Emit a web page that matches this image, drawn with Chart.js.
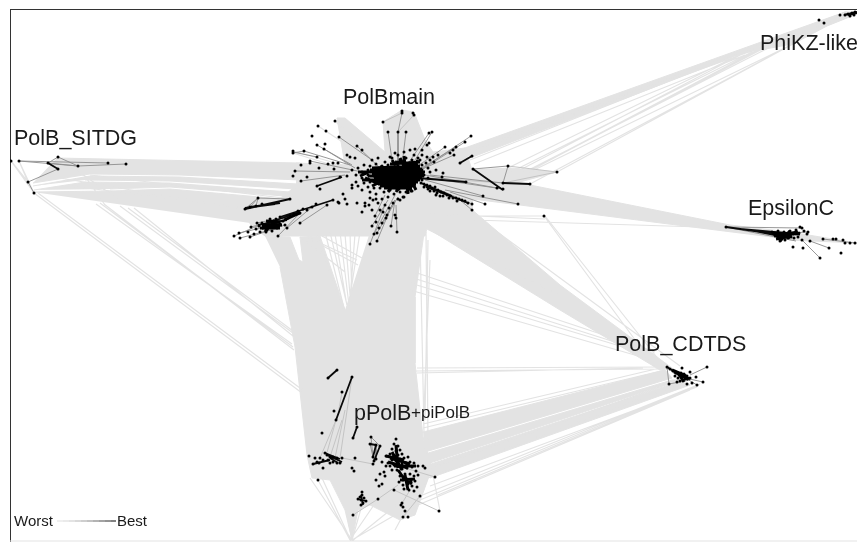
<!DOCTYPE html>
<html>
<head>
<meta charset="utf-8">
<title>PolB network</title>
<script src="https://cdn.jsdelivr.net/npm/chart.js@4"></script>
<style>
  html, body { margin: 0; padding: 0; background: #fff; }
  canvas { display: block; }
</style>
</head>
<body>
<canvas id="network" width="857" height="542"></canvas>
<script>
// Node positions, one list per cluster
const polbMainNodes = [
  [402,111],[402,113],[413,113],[414,115],[383,122],[388,132],[398,132],[406,132],[432,132],[429,133],[335,121],[318,126],[326,131],[312,136],[339,137],
  [471,136],[465,142],[456,147],[445,147],[429,143],[427,145],[357,146],[362,150],[325,144],[317,145],[324,149],[293,151],[293,153],[304,151],[317,157],
  [310,161],[310,163],[301,165],[295,171],[293,176],[307,177],[301,181],[328,164],[333,163],[338,163],[334,169],[319,168],[350,157],[355,158],[347,155],
  [340,177],[347,176],[317,186],[320,189],[352,185],[343,194],[345,199],[347,204],[338,202],[357,203],[365,203],[365,206],[362,212],[373,200],[378,203],
  [375,216],[372,226],[374,234],[377,233],[370,244],[377,241],[382,223],[387,215],[395,215],[396,218],[391,226],[397,232],[393,203],[400,200],[403,197],[408,192],
  [450,153],[453,150],[454,155],[438,155],[433,157],[427,157],[422,150],[415,149],[395,153],[390,157],[443,173],[442,177],[466,182],[483,196],[497,188],[503,189],
  [503,183],[508,166],[473,169],[518,204],[485,204],[472,210],[472,204],[460,163],[472,156],[530,184],[557,172],[544,216],
  [372,160],[378,158],[385,162],[392,158],[398,155],[404,152],[410,150],[414,155],[418,158],[422,155],[420,160],[412,160],[406,158],[400,160],[394,163],[388,165],
  [382,166],[376,164],[370,166],[364,165],[358,168],[352,170],[356,175],[362,172],[368,170],[374,170],[380,172],[386,170],[392,168],[398,166],[404,165],[410,165],
  [416,164],[422,165],[426,163],[430,160],[434,162],[428,168],[422,170],[416,170],[410,170],[404,170],[398,172],[392,174],[386,176],[380,178],[374,176],[368,175],
  [362,178],[356,182],[352,188],[358,186],[364,183],[370,182],[376,182],[382,183],[388,181],[394,179],[400,177],[406,176],[412,175],[418,175],[424,175],[430,172],
  [436,170],[428,178],[422,180],[416,180],[410,181],[404,182],[398,183],[392,185],[386,187],[380,188],[374,188],[368,187],[362,190],[370,192],[376,194],[384,192],
  [390,190],[396,188],[402,187],[408,186],[414,185],[412,191],[406,192],[400,192],[394,194],[388,197],[382,199],[376,199],[370,198],[404,197],[398,199],
  [385,205],[380,210],[376,222],[383,212],[379,228],[386,218],[389,208],[372,210],[369,205],
  [421,183],[424,184],[427,185],[430,186],[424,187],[428,189],[432,188],[435,187],[438,190],[434,191],[430,191],[441,192],[437,193],[444,193],[447,195],[443,196],
  [450,196],[453,198],[449,198],[456,198],[459,199],[462,200],[457,201],[465,201],[468,203],[440,196],[436,195]
];
const polbLowerLeftNodes = [
  [234,236],[239,233],[240,238],[248,232],[250,237],[251,227],[257,223],[278,236],[280,217],[287,228],[300,223],[300,213],[312,207],[327,205],[333,200],[339,203],
  [256,229],[259,226],[262,223],[265,228],[268,222],[271,226],[274,223],[277,228],[280,224],[283,221],[266,232],[272,231],[260,232],[254,234],[286,219],[290,216],
  [294,214],[298,211],[303,209],[307,210],[316,204],[270,219],[276,219],[285,225],[245,209],[258,198],[290,199],[250,207],[256,206],[262,204]
];
const sitdgNodes = [[11,161],[19,161],[58,157],[48,163],[58,169],[78,166],[108,163],[126,164],[28,182],[34,193]];
const phikzNodes = [[819,20],[824,23],[840,15],[845,15],[848,14],[852,13],[855,12],[850,16],[854,15]];
const epsilonNodes = [
  [726,227],[800,227],[808,232],[810,241],[802,240],[820,258],[793,247],[803,248],[829,248],[823,239],[833,239],[836,239],[843,240],[845,243],[855,243],[841,253],[850,243],
  [772,232],[775,235],[778,231],[781,234],[784,232],[787,235],[790,231],[793,234],[796,230],[799,233],[778,237],[782,238],[785,240],[788,238],[791,237],[780,241],[786,236],[794,238],[798,237],[804,231],[802,228],[807,234]
];
const cdtdsNodes = [
  [667,367],[707,367],[669,384],[703,382],[697,385],[682,368],[690,372],[696,377],[692,383],[687,384],[677,382],[670,369],[673,371],
  [676,373],[679,375],[682,377],[685,379],[678,378],[681,373],[684,374],[687,376],[690,378],[675,376],[683,380],[680,381]
];
const ppolbNodes = [
  [309,456],[315,458],[318,480],[313,464],[319,463],[323,468],[325,453],[327,455],[330,457],[333,457],[337,458],[342,458],[340,463],[333,462],[328,460],[323,460],
  [320,458],[317,462],[330,463],[337,463],[337,370],[328,378],[352,377],[336,420],[342,392],[334,411],[322,433],[357,427],[353,438],[355,458],[352,468],[354,471],
  [373,464],[371,437],[370,444],[376,445],[380,446],[373,457],[374,461],[376,459],
  [396,439],[394,444],[398,446],[392,449],[396,451],[400,450],[390,454],[394,456],[398,455],[402,454],[386,456],[392,460],[396,461],[400,459],[404,458],[408,457],
  [388,463],[382,462],[386,466],[390,466],[394,465],[398,466],[402,464],[406,463],[410,462],[414,463],[418,466],[423,466],[425,468],[392,470],[397,470],[402,469],
  [407,468],[412,467],[416,471],[384,472],[380,474],[376,480],[385,476],[382,484],[379,486],[435,477],[400,476],[405,474],[410,474],[414,476],[418,475],[403,480],
  [399,482],[407,479],[411,481],[415,481],[403,485],[408,484],[412,486],[417,487],[404,489],[409,490],[414,491],[420,496],[394,490],[378,499],[401,505],[403,507],
  [405,511],[403,517],[408,517],[402,503],[439,511],[353,515],[362,495],[360,497],[364,498],[361,500],[363,503],[361,505],[358,499],[366,501],[362,492]
];

// Edges as x1,y1,x2,y2 - lightest first
const grayEdges = [
  [10,541,857,541],
  // SITDG over to pPolB
  [34,193,302,393],[38,193,304,391],[100,203,293,347],[104,204,294,350],[96,204,292,344],[120,206,293,333],[128,208,293,331],[134,208,293,336],
  [11,161,34,193],[19,161,34,193],[11,161,28,182],[19,161,28,182],
  // left band stray
  [60,178,280,215],[90,175,300,200],[70,186,265,210],[58,158,120,200],[78,166,105,205],
  // main to CDTDS strays
  [410,277,640,350],[410,283,650,355],[410,290,645,358],[414,272,655,352],[544,216,655,367],[545,216,667,370],[473,220,700,227],[427,216,543,216],[430,214,545,219],
  [417,368,667,367],[417,373,643,368],[416,371,660,369],[425,228,560,295],[470,212,680,366],
  // pPolB to CDTDS fringe
  [423,424,660,368],[423,428,665,370],[428,478,680,384],[430,486,697,387],[420,496,690,388],[438,495,697,386],[425,470,680,380],[420,500,700,384],[418,505,690,390],
  // crossing the notch between the two columns
  [307,237,357,260],[312,240,358,265],[300,237,345,272],[330,232,347,305],[340,232,349,305],[325,232,345,312],[316,234,344,310],[350,232,352,300],[360,232,348,310],
  [335,234,346,300],[345,234,350,295],[355,234,350,300],[322,236,362,258],
  [420,235,424,432],[426,232,428,440],[428,240,425,420],[430,260,424,410],
  // main to PhiKZ
  [510,167,743,53],[520,170,750,50],[505,175,752,52],[507,182,760,49],[520,176,765,46],[500,186,772,44],[497,188,793,44],[470,150,743,52],[470,152,760,48],[470,160,760,45],[474,164,745,55],
  [557,172,793,44],[530,184,793,44],[503,183,784,40],
  // down to the bottom fan
  [310,478,352,540],[318,480,350,540],[322,478,351,541],[340,480,352,540],[352,515,352,540],[362,505,352,540],[395,515,352,540],[415,490,352,541],[378,499,350,540],
  [402,517,395,530],[408,517,415,500],[430,470,420,500],[432,470,440,511],
  // top spikes
  [383,122,408,170],[402,111,383,122],[413,113,425,150],[402,113,390,160],[335,121,377,160],[318,126,370,160],[293,151,360,170],[293,153,355,172],[301,165,370,175],[295,171,360,180],[293,176,370,182]
];
const lightEdges = [
  [320,458,336,420],[326,456,336,420],[330,457,342,420],[335,458,345,410],[340,458,352,377],[337,420,342,392],
  [342,458,373,464],[353,515,378,499],[394,490,439,511],[435,477,405,468],[378,499,398,485],[403,517,420,496],[401,505,410,490],
  [503,183,557,172],[508,166,557,172],[430,178,503,183],[402,113,383,122],[414,115,398,132]
];
const midEdges = [
  [293,152,317,157],[293,153,304,151],[304,151,350,165],[317,145,352,165],[324,149,355,168],[339,137,372,160],[357,146,380,168],[301,181,345,175],[295,171,350,172],[310,161,362,172],
  [402,113,398,132],[398,132,398,165],[406,132,402,165],[388,132,392,160],[429,133,405,168],[432,132,412,165],[471,136,420,170],[465,142,418,172],[456,147,415,172],[445,147,412,170],[454,155,420,170],
  [483,196,425,180],[497,188,425,175],[503,189,428,178],[518,204,445,190],[485,204,450,192],[472,210,460,200],[503,183,430,175],[472,204,440,190],
  [374,234,395,195],[377,233,398,197],[370,244,385,205],[372,226,388,200],[377,241,392,205],[382,223,395,200],[391,226,395,200],[397,232,396,205],[375,216,385,195],
  [234,236,262,224],[239,233,270,226],[240,238,278,228],[250,237,285,225],[278,236,300,213],[287,228,312,207],[300,223,327,205],[251,227,290,216],[257,223,290,216],
  [245,209,258,198],[258,198,290,199],[250,207,258,198],[256,206,258,198],
  [19,161,78,166],[19,161,108,163],[48,163,78,166],[58,157,48,163],[58,157,78,166],[78,166,126,164],[28,182,58,169],[28,182,34,193],
  [371,437,380,446],[371,437,373,457],[370,444,374,461],[376,445,376,459],[667,367,697,385],[667,367,669,384],[669,384,690,380],[707,367,690,375],[703,382,685,378],
  [726,227,802,228],[726,227,796,241],[808,232,790,233],[802,240,820,258],[810,241,829,248],[823,239,855,243],
  [473,169,508,166],[508,166,503,183]
];
const blackEdges = [
  [328,378,337,370],[336,420,352,377],[357,427,353,438],[380,446,374,461],[376,445,373,457],[370,444,376,445],
  [473,169,503,190],[503,183,530,184],[460,163,472,156],[418,178,466,182],[48,163,58,169],[317,186,342,177],
  [245,209,290,199],[245,208,275,204],[250,207,280,203],[280,217,333,200],[265,224,300,212],[258,225,287,220],[262,229,290,218],
  [726,227,790,236],[740,229,785,233],[755,231,790,238],
  [667,367,688,380],[421,183,452,196],[426,187,458,199],[435,190,468,203],[424,185,440,192],
  [327,455,342,462],[325,453,340,459],[330,458,338,463],[313,464,330,460],
  [361,495,363,505],[358,499,366,501],[844,15,857,12],[848,15,857,13]
];
// Where the clusters close up into solid black
const blobEdges = [
  [372,168,420,166],[370,172,425,172],[368,176,424,176],[374,180,420,180],[378,184,416,184],[384,188,412,188],[390,164,420,162],
  [370,170,422,169],[372,174,424,174],[374,178,422,178],[376,182,418,182],[380,186,414,186],[395,162,418,164],
  [400,158,416,190],[392,160,412,192],[404,156,408,194],[380,166,400,190],[358,172,380,172],[362,180,380,180],
  [396,192,418,160],[388,192,410,162],[372,186,392,176],[365,178,385,186],[360,176,378,168],
  [262,225,282,225],[260,228,280,228],[266,221,280,222],[265,232,275,220],[284,220,300,213],
  [772,233,800,234],[774,236,798,232],[776,239,792,236],[780,241,790,231],
  [674,372,690,379],[678,373,684,382],[672,370,686,376],
  [392,452,402,470],[390,458,410,464],[396,445,398,468],[388,462,408,468],[394,466,416,466],
  [402,476,412,484],[400,480,415,479],[405,475,408,490],[386,456,404,460],[398,470,405,480]
];

// Legend bar, worst to best
const legendX = [57,63,69,75,81,87,93,99,105,111,116];
const legendShade = ['#e4e4e4','#dcdcdc','#d0d0d0','#c0c0c0','#adadad','#999999','#808080','#666666','#4a4a4a','#2e2e2e'];

const LEGEND_Y = 521;
const BAND_GRAY = '#e3e3e3';

// Filled parts where the gray edges are too dense to tell apart
const bandShapes = [
  // SITDG to main
  [[57,158],[300,163],[300,180],[180,175],[90,174],[33,183]],
  [[33,186],[90,176],[180,177],[298,184],[296,189],[170,181],[85,180]],
  [[34,190],[85,182],[170,183],[290,192],[284,196],[170,187],[110,189]],
  [[33,192],[110,191],[170,189],[282,199],[250,210],[250,223]],
  // hub around main
  [[296,163],[345,165],[337,118],[345,118],[385,152],[383,122],[402,110],[414,112],[425,140],[433,152],[465,148],[472,170],[472,208],[427,228],[425,236],[370,236],[346,236],[310,236],[265,236],[250,224],[250,210],[282,197],[296,186]],
  // main to PhiKZ
  [[462,149],[845,12],[857,12],[743,53],[470,158]],
  [[743,53],[793,44],[827,26],[857,14],[845,12],[760,46]],
  [[472,170],[510,168],[557,172],[505,186],[472,182]],
  // main to EpsilonC
  [[440,170],[520,183],[730,225],[790,232],[857,243],[790,240],[780,238],[700,228],[520,205],[440,195]],
  // main to CDTDS
  [[430,195],[470,208],[560,285],[672,368],[660,370],[560,310],[427,228]],
  // pPolB to CDTDS
  [[423,432],[665,370],[672,378],[425,452]],
  [[425,454],[672,380],[680,380],[427,464]],
  [[425,466],[681,381],[690,385],[430,478]],
  // two columns down to pPolB
  [[265,236],[290,237],[299,260],[303,262],[300,237],[320,236],[345,310],[345,460],[307,455],[295,347],[280,267]],
  [[370,232],[425,226],[415,297],[415,363],[423,437],[430,468],[330,470],[345,310]],
  // fan round pPolB
  [[307,455],[312,478],[330,480],[345,510],[352,540],[358,510],[370,505],[400,520],[415,515],[432,468],[423,437]]
];

const chartLabels = [
  { text: 'PolBmain', x: 343, y: 104, size: 21.5 },
  { text: 'PolB_SITDG', x: 14, y: 145, size: 21.5 },
  { text: 'PhiKZ-like', x: 760, y: 50, size: 21.5 },
  { text: 'EpsilonC', x: 748, y: 215, size: 21.5 },
  { text: 'PolB_CDTDS', x: 615, y: 351, size: 21.5 },
  { text: 'pPolB', x: 354, y: 420, size: 21.5 },
  { text: '+piPolB', x: 411, y: 418, size: 17 },
  { text: 'Worst', x: 14, y: 526, size: 15 },
  { text: 'Best', x: 117, y: 526, size: 15 }
];

function toPoint(pair) {
  return { x: pair[0], y: pair[1] };
}

// one line dataset holding many loose segments, NaN breaks the line
function edgePoints(edges) {
  const pts = [];
  edges.forEach(e => {
    pts.push({ x: e[0], y: e[1] }, { x: e[2], y: e[3] }, { x: NaN, y: NaN });
  });
  return pts;
}

function edgeDataset(edges, color, width, order) {
  return {
    data: edgePoints(edges),
    showLine: true,
    spanGaps: false,
    borderColor: color,
    borderWidth: width,
    pointRadius: 0,
    order: order
  };
}

const datasets = [];

bandShapes.forEach(shape => {
  datasets.push({
    data: shape.map(toPoint),
    showLine: true,
    fill: 'shape',
    backgroundColor: BAND_GRAY,
    borderColor: BAND_GRAY,
    borderWidth: 1,
    pointRadius: 0,
    order: 10
  });
});

datasets.push(edgeDataset(grayEdges, BAND_GRAY, 1.2, 9));
datasets.push(edgeDataset(lightEdges, '#c4c4c4', 1, 8.5));
datasets.push(edgeDataset(midEdges, '#8c8c8c', 0.9, 8));
datasets.push(edgeDataset(blackEdges, '#0a0a0a', 1.8, 7));
datasets.push(edgeDataset(blobEdges, '#000', 3, 6));

datasets.push({
  data: polbMainNodes.concat(polbLowerLeftNodes, sitdgNodes, phikzNodes, epsilonNodes, cdtdsNodes, ppolbNodes).map(toPoint),
  showLine: false,
  pointRadius: 1.5,
  pointBackgroundColor: '#000',
  pointBorderWidth: 0,
  order: 1
});

// legend bar
datasets.push({
  data: legendX.map(x => ({ x: x, y: LEGEND_Y })),
  showLine: true,
  borderWidth: 1.2,
  borderColor: '#999',
  pointRadius: 0,
  segment: { borderColor: c => legendShade[c.p0DataIndex] },
  order: 2
});

const labelPlugin = {
  id: 'clusterLabels',
  afterDatasetsDraw(chart) {
    const ctx = chart.ctx;
    const xs = chart.scales.x;
    const ys = chart.scales.y;
    ctx.save();
    ctx.fillStyle = '#1a1a1a';
    ctx.textBaseline = 'alphabetic';
    chartLabels.forEach(l => {
      ctx.font = l.size + 'px "Liberation Sans", Arial, sans-serif';
      ctx.fillText(l.text, xs.getPixelForValue(l.x), ys.getPixelForValue(l.y));
    });
    ctx.restore();
  }
};

new Chart(document.getElementById('network').getContext('2d'), {
  type: 'scatter',
  data: { datasets: datasets },
  plugins: [labelPlugin],
  options: {
    responsive: false,
    animation: false,
    events: [],
    layout: { autoPadding: false, padding: { left: 10, top: 9, right: 0, bottom: 0 } },
    plugins: { legend: { display: false }, tooltip: { enabled: false } },
    scales: {
      x: {
        type: 'linear', position: 'top', min: 10, max: 857,
        grid: { display: false, drawTicks: false }, ticks: { display: false },
        border: { display: true, color: '#333', width: 1 }
      },
      y: {
        type: 'linear', position: 'left', reverse: true, min: 9, max: 542,
        grid: { display: false, drawTicks: false }, ticks: { display: false },
        border: { display: true, color: '#333', width: 1 }
      }
    }
  }
});
</script>
</body>
</html>
